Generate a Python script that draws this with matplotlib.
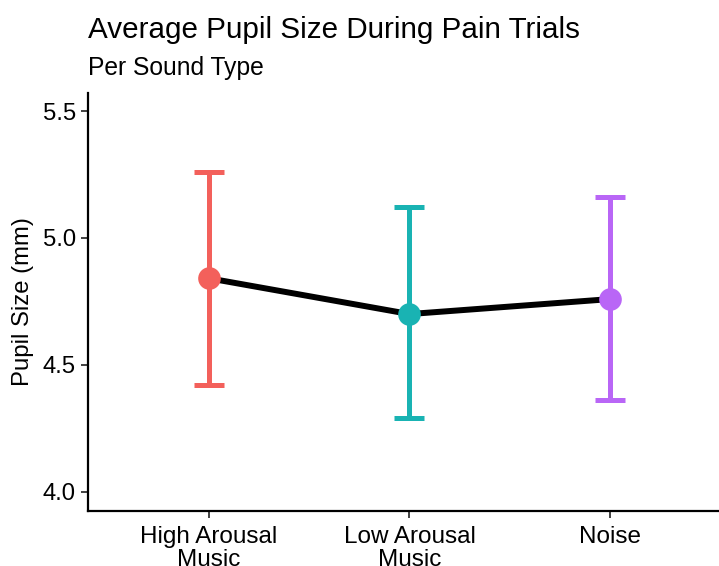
import matplotlib
matplotlib.use("Agg")
import matplotlib.pyplot as plt

categories = ["High Arousal\nMusic", "Low Arousal\nMusic", "Noise"]
means = [4.841, 4.700, 4.759]
upper = [5.260, 5.121, 5.160]
lower = [4.419, 4.289, 4.360]
colors = ["#F3605B", "#19B3B3", "#B966F6"]
yticks = [4.0, 4.5, 5.0, 5.5]

plt.rcParams['font.family'] = ['Liberation Sans', 'DejaVu Sans']

fig = plt.figure(figsize=(7.19, 5.66), dpi=100)
ax = fig.add_axes([88.3/719, (566-510.7)/566, (730.6-88.3)/719, (510.7-93.3)/566])

x = list(range(1, len(categories) + 1))

ax.plot(x, means, color="black", lw=4.3, zorder=2, solid_capstyle="butt")
for xi, m, lo, hi, c in zip(x, means, lower, upper, colors):
    ax.errorbar([xi], [m], yerr=[[m - lo], [hi - m]], fmt="none", ecolor=c,
                elinewidth=3.6, capsize=10.5, capthick=3.6, zorder=1)
    ax.plot([xi], [m], "o", color=c, markersize=16.3, zorder=3, markeredgewidth=0)

ax.set_xlim(0.4, 3.6)
ax.set_ylim(3.925, 5.570)
ax.set_xticks(x)
ax.set_xticklabels(categories, fontsize=17.5, linespacing=1.08)
ax.set_yticks(yticks)
ax.set_yticklabels([f"{v:.1f}" for v in yticks], fontsize=17.2)
ax.set_ylabel("Pupil Size (mm)", fontsize=17.2, labelpad=6)

for s in ["top", "right"]:
    ax.spines[s].set_visible(False)
for s in ["left", "bottom"]:
    ax.spines[s].set_linewidth(1.6)
ax.tick_params(axis="both", width=1.3, length=5, color="#333333", labelcolor="black")
ax.tick_params(axis="x", pad=6)
ax.tick_params(axis="y", pad=4)

fig.text(88/719, 1 - 38.3/566, "Average Pupil Size During Pain Trials", fontsize=21.3,
         ha="left", va="baseline")
fig.text(88/719, 1 - 75/566, "Per Sound Type", fontsize=17.7, ha="left", va="baseline")

fig.savefig("out.png", dpi=100)
